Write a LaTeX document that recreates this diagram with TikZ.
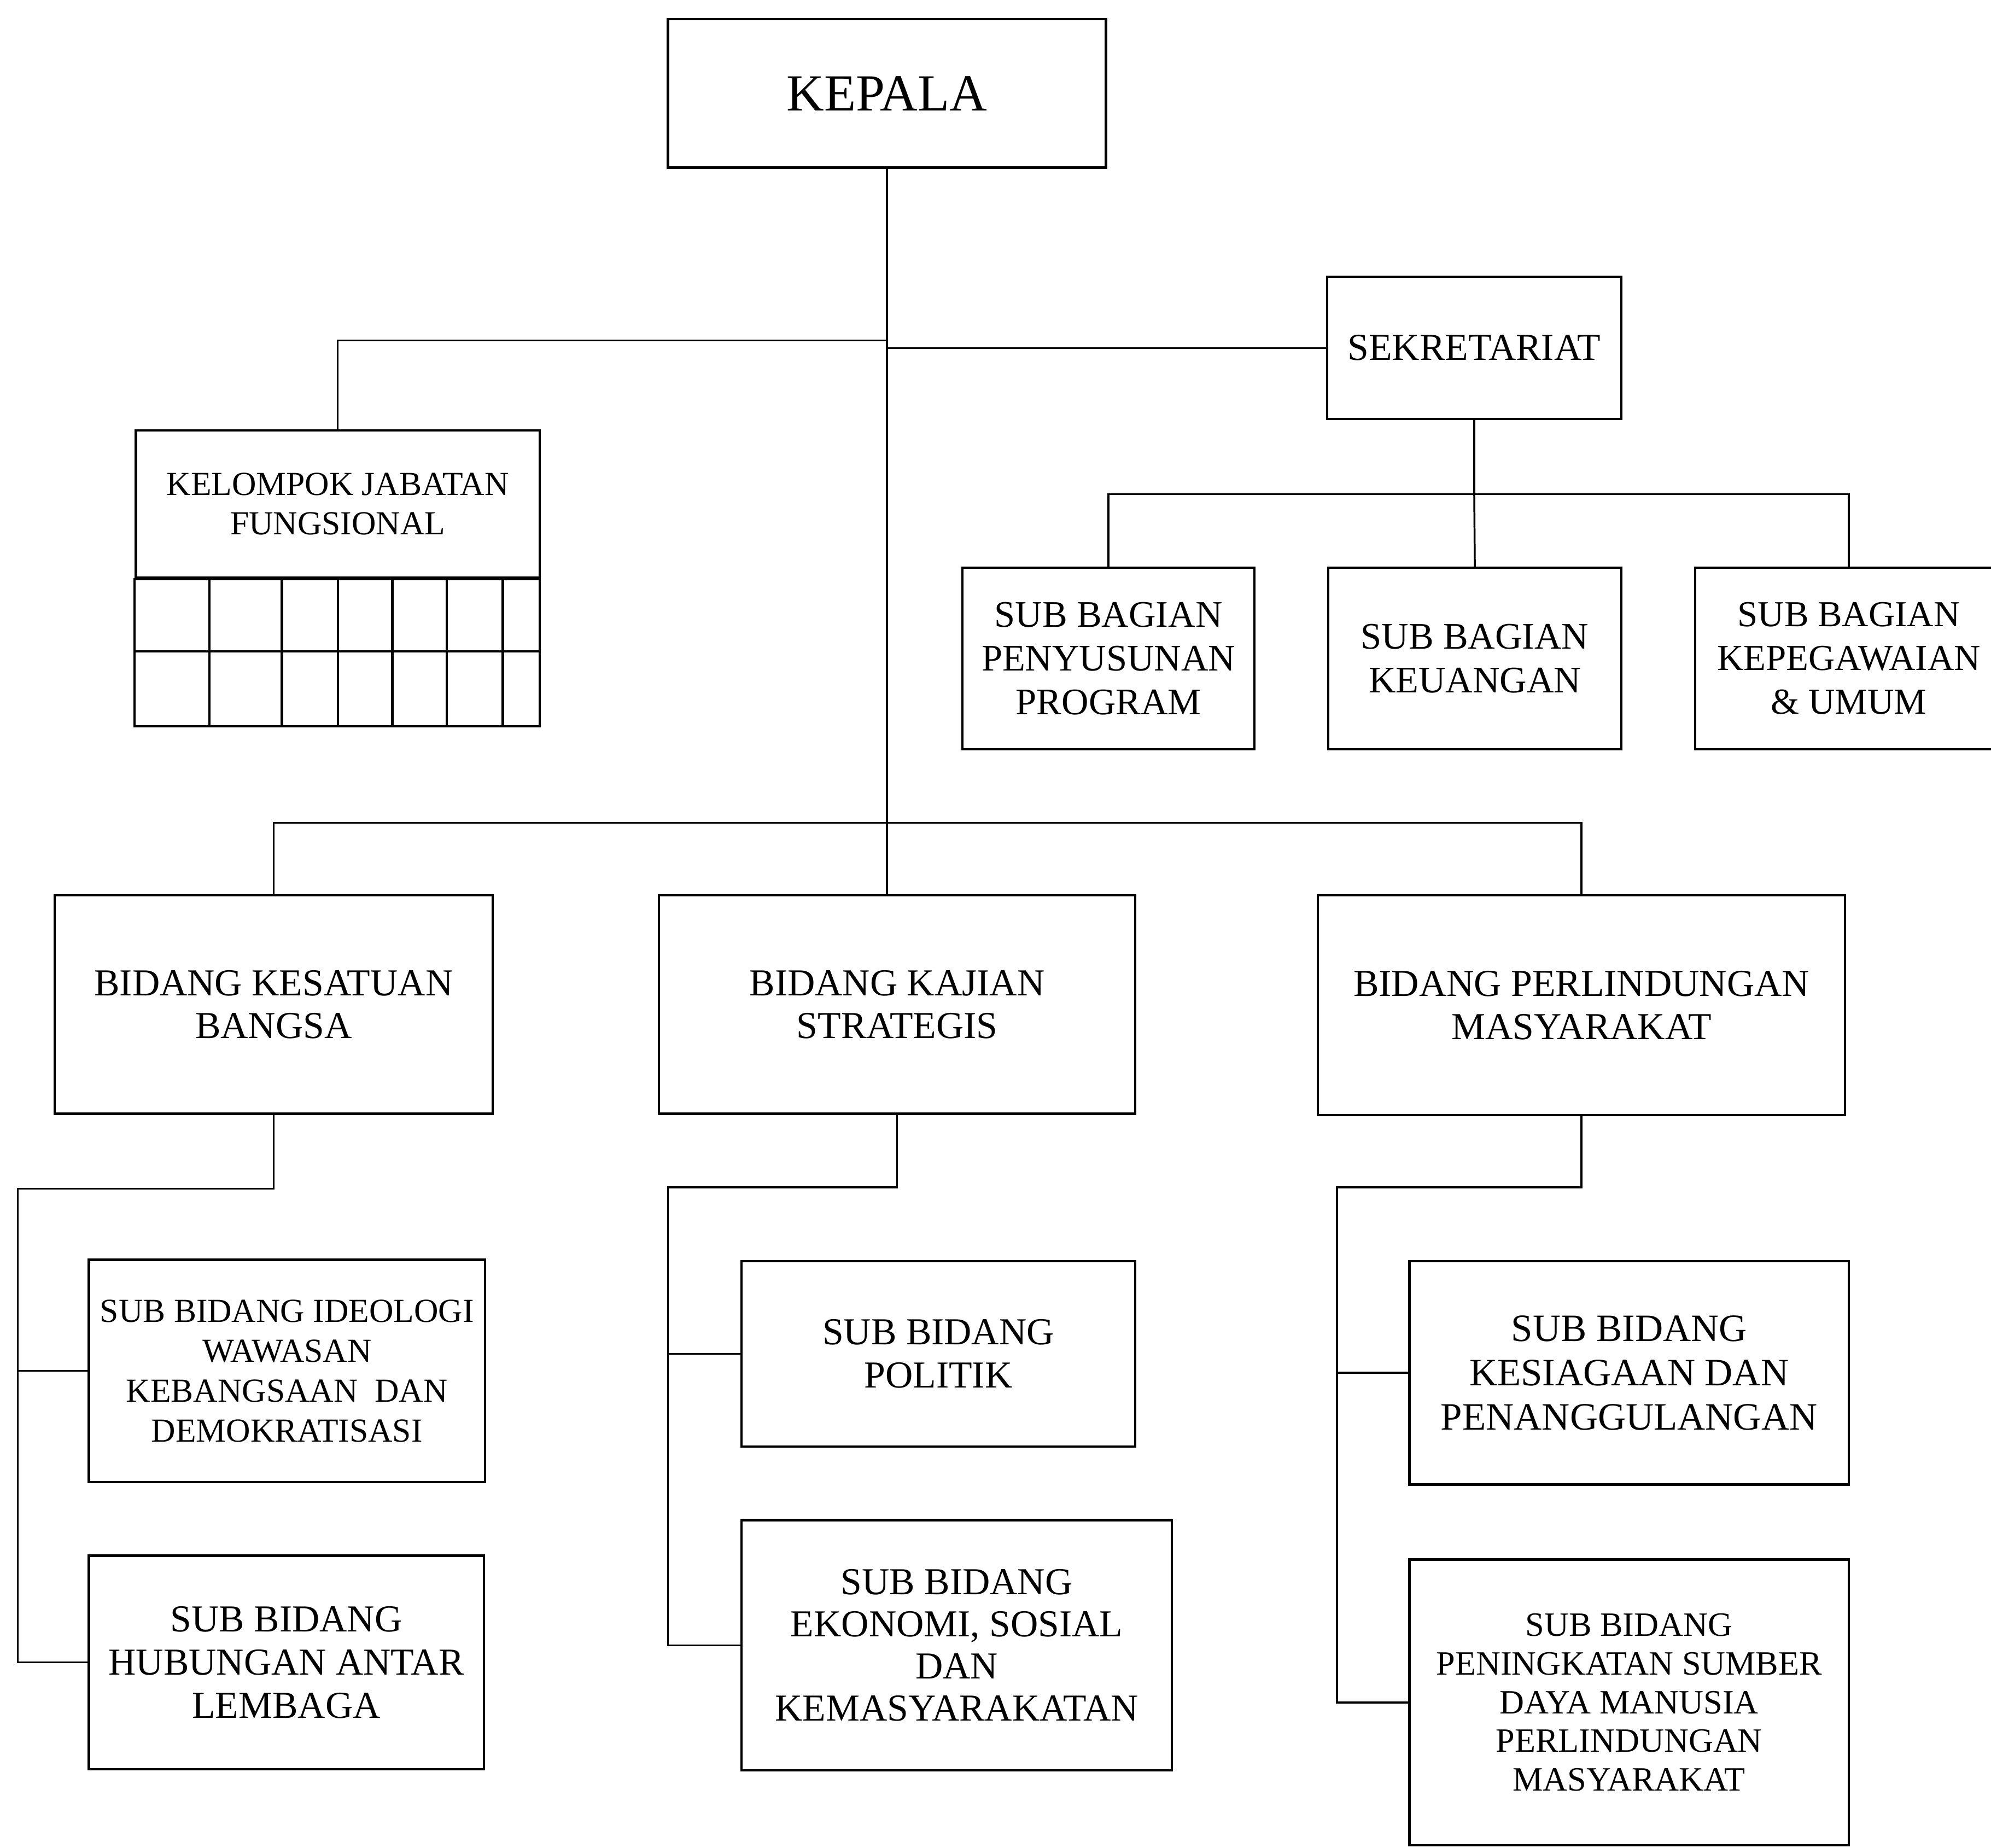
\documentclass[tikz,border=0pt]{standalone}
\usepackage{fontspec}
\setmainfont{Liberation Serif}
\begin{document}
\begin{tikzpicture}[x=1pt,y=-1pt,
  box/.style={draw=black,line width=1.8pt,rectangle,inner sep=0pt,align=center},
  conn/.style={draw=black,line width=1.5pt},
  fbig/.style={font=\fontsize{41}{46}\selectfont},
  fmain/.style={font=\fontsize{30}{34}\selectfont},
  fsmall/.style={font=\fontsize{26.5}{31.5}\selectfont},
  fsub/.style={font=\fontsize{29.5}{34.5}\selectfont}]
\fill[white] (0,0) rectangle (1568,1455);
\useasboundingbox (0,0) rectangle (1568,1455);

% top
\node[box,fbig,minimum width=345pt,minimum height=117pt] (kepala) at (698.5,73.5) {KEPALA};
\node[box,fmain,minimum width=232pt,minimum height=112pt] (sek) at (1161,274) {SEKRETARIAT};

% kelompok jabatan fungsional
\node[box,font=\fontsize{26.5}{31}\selectfont,minimum width=318pt,minimum height=116pt] (kjf) at (266,397) {KELOMPOK JABATAN\\FUNGSIONAL};
\draw[box] (kjf.south west) rectangle (425,572);
\draw[box] (107,513) -- (425,513);
\foreach \gx in {165,222,266,309,352,396}{\draw[box] (\gx,455) -- (\gx,572);}

% sub bagian
\node[box,fsub,minimum width=230pt,minimum height=143pt] (sp) at (873,518.5) {SUB BAGIAN\\PENYUSUNAN\\PROGRAM};
\node[box,fsub,minimum width=231pt,minimum height=143pt] (keu) at (1161.5,518.5) {SUB BAGIAN\\KEUANGAN};
\node[box,font=\fontsize{28.8}{34.5}\selectfont,minimum width=242pt,minimum height=143pt] (kp) at (1456,518.5) {SUB BAGIAN\\KEPEGAWAIAN\\\& UMUM};

% bidang
\node[box,fmain,minimum width=345pt,minimum height=172pt] (bkb) at (215.5,791) {BIDANG KESATUAN\\BANGSA};
\node[box,fmain,minimum width=375pt,minimum height=172pt] (bks) at (706.5,791) {BIDANG KAJIAN\\STRATEGIS};
\node[box,fmain,minimum width=415pt,minimum height=173pt] (bpm) at (1245.5,791.5) {BIDANG PERLINDUNGAN\\MASYARAKAT};

% sub bidang left
\node[box,fsmall,minimum width=312pt,minimum height=175pt] (ideo) at (226,1079.5) {SUB BIDANG IDEOLOGI\\WAWASAN\\KEBANGSAAN\ \ DAN\\DEMOKRATISASI};
\node[box,fmain,minimum width=311pt,minimum height=168pt] (hub) at (225.5,1309) {SUB BIDANG\\HUBUNGAN ANTAR\\LEMBAGA};

% sub bidang middle
\node[box,fmain,minimum width=310pt,minimum height=146pt] (pol) at (739,1066) {SUB BIDANG\\POLITIK};
\node[box,font=\fontsize{30}{33.3}\selectfont,minimum width=339pt,minimum height=197pt] (eko) at (753.5,1295.5) {SUB BIDANG\\EKONOMI, SOSIAL\\DAN\\KEMASYARAKATAN};

% sub bidang right
\node[box,font=\fontsize{30.5}{35}\selectfont,minimum width=346pt,minimum height=176pt] (kes) at (1283,1081) {SUB BIDANG\\KESIAGAAN DAN\\PENANGGULANGAN};
\node[box,font=\fontsize{26.8}{30.5}\selectfont,minimum width=346pt,minimum height=225pt] (pen) at (1283,1340.5) {SUB BIDANG\\PENINGKATAN SUMBER\\DAYA MANUSIA\\PERLINDUNGAN\\MASYARAKAT};

% connectors
\coordinate (tl) at (698.5,268);
\coordinate (bh) at (698.5,648);
\coordinate (sb) at (1161,389);
\coordinate (lb) at (14,936);
\coordinate (mb) at (526,935);
\coordinate (rb) at (1053,935);

\draw[conn] (kepala.south) -- (kepala.south |- bks.north);
\draw[conn] (tl) -| (kjf.north);
\draw[conn] (kepala.south |- sek.west) -- (sek.west);
\draw[conn] (sek.south) -- (sb);
\draw[conn] (sp.north) |- (sb) -| (kp.north);
\draw[conn] (sb) -- (keu.north);
\draw[conn] (bkb.north) |- (bh) -| (bpm.north);

\draw[conn] (bkb.south) |- (lb) |- (hub.west);
\draw[conn] (lb |- ideo.west) -- (ideo.west);

\draw[conn] (bks.south) |- (mb) |- (eko.west);
\draw[conn] (mb |- pol.west) -- (pol.west);

\draw[conn] (bpm.south) |- (rb) |- (pen.west);
\draw[conn] (rb |- kes.west) -- (kes.west);
\end{tikzpicture}
\end{document}
